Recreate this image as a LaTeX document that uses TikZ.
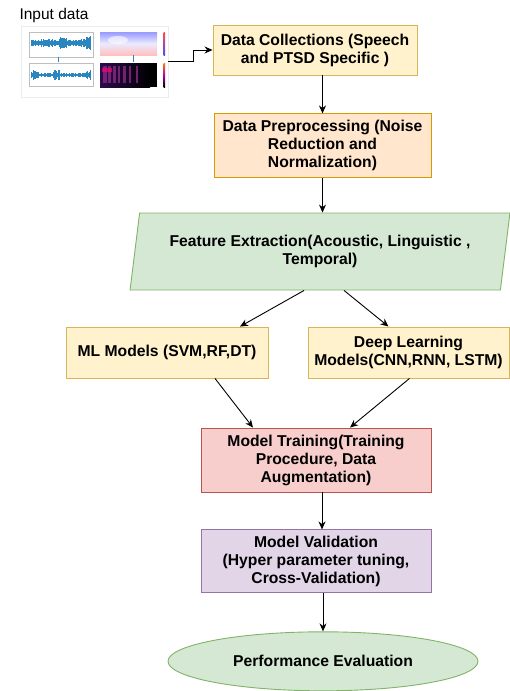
\documentclass[tikz,border=0pt]{standalone}
\usepackage{fontspec}
\setmainfont{Liberation Sans}
\usepackage{xcolor}
\usepackage{tikz}
\usetikzlibrary{shapes,arrows.meta,positioning}

\definecolor{yelfill}{HTML}{FFF2CC}
\definecolor{yeldraw}{HTML}{D6B656}
\definecolor{orafill}{HTML}{FFE6CC}
\definecolor{oradraw}{HTML}{D79B00}
\definecolor{grnfill}{HTML}{D5E8D4}
\definecolor{grndraw}{HTML}{82B366}
\definecolor{redfill}{HTML}{F8CECC}
\definecolor{reddraw}{HTML}{B85450}
\definecolor{purfill}{HTML}{E1D5E7}
\definecolor{purdraw}{HTML}{9673A6}
\definecolor{wavecol}{HTML}{2A86BE}
\definecolor{magmadk}{HTML}{2C0B4F}
\definecolor{magmamd}{HTML}{8C2981}

\begin{document}
\begin{tikzpicture}[
    x=1pt, y=-1pt,
    >={Stealth[length=8pt,width=7pt]},
    flowbox/.style={rectangle, draw, line width=0.9pt, align=center, inner sep=2pt,
        font=\fontsize{15.7}{18}\selectfont\bfseries},
    yelbox/.style={flowbox, fill=yelfill, draw=yeldraw},
    wave/.style={wavecol, line width=0.6pt}
]
\useasboundingbox (0,0) rectangle (510,691);

% input data picture
\node[anchor=west, font=\fontsize{15.5}{18}\selectfont] (inlabel) at (16,15) {Input data};
\node[draw=gray!15, minimum width=147pt, minimum height=71pt] (img) at (94.5,61.5) {};
\draw[gray!50, line width=0.3pt] (29,32) rectangle (93,57) (29,63) rectangle (93,86);
\pgfmathsetseed{11}
\foreach \x in {31,31.7,...,91} {
    \pgfmathsetmacro\a{1.5+2.5*rnd+(\x>60)*(\x<66)*2+(\x>86)*3}
    \draw[wave] (\x,{43-\a}) -- (\x,{43+\a});
    \pgfmathsetmacro\b{0.8+1.4*rnd+(\x<38)*3*rnd+(\x>52)*(\x<60)*4*rnd+(\x>86)*4*rnd}
    \draw[wave] (\x,{75-\b}) -- (\x,{75+\b});
}
\shade[top color=blue!40, bottom color=red!25, middle color=blue!8] (100,32) rectangle (157,55);
\fill[white, opacity=0.6] (118,40) ellipse (10pt and 4pt);
\fill[black] (100,63) rectangle (157,87);
\shade[left color=magmadk, right color=black] (100,63) rectangle (150,87);
\foreach \sx/\sw in {103/4,108/3,113/3,118/2,123/3,129/2,136/2} {
    \fill[magmamd, opacity=0.8] (\sx,66) rectangle ++(\sw,17);
}
\fill[magenta!70!red, opacity=0.7] (102,68) rectangle (112,72);
\shade[top color=red!70, bottom color=blue!70] (163.5,32) rectangle (165,55);
\shade[top color=orange, bottom color=black, middle color=magenta!70!black] (163.5,63) rectangle (165,87);
\draw[wave] (58,57) -- (58,62) (133,55) -- (133,62);

% flow
\node[yelbox, minimum width=204pt, minimum height=50pt] (collect) at (315,50)
    {Data Collections (Speech\\and PTSD Specific )};
\node[flowbox, fill=orafill, draw=oradraw, minimum width=217pt, minimum height=64pt]
    (preproc) [below=38pt of collect, xshift=7.5pt]
    {Data Preprocessing (Noise\\Reduction and\\Normalization)};
\node[flowbox, fill=grnfill, draw=grndraw, trapezium, trapezium left angle=77.5,
    trapezium right angle=102.5, trapezium stretches, minimum width=380pt,
    minimum height=77pt] (feature) at (320,251.5)
    {Feature Extraction(Acoustic, Linguistic ,\\Temporal)};
\node[yelbox, minimum width=202pt, minimum height=51pt] (ml) at (167,352.5)
    {ML Models (SVM,RF,DT)};
\node[yelbox, minimum width=201pt, minimum height=51pt] (dl) at (408.5,352.5)
    {Deep Learning\\Models(CNN,RNN, LSTM)};
\node[flowbox, fill=redfill, draw=reddraw, minimum width=230pt, minimum height=64pt]
    (training) at (316,460) {Model Training(Training\\Procedure, Data\\Augmentation)};
\node[flowbox, fill=purfill, draw=purdraw, minimum width=230pt, minimum height=63pt]
    (validation) [below=37pt of training]
    {Model Validation\\(Hyper parameter tuning,\\Cross-Validation)};
\node[flowbox, ellipse, fill=grnfill, draw=grndraw, minimum width=310pt, minimum height=59pt]
    (eval) [below=38pt of validation, xshift=7pt] {Performance Evaluation};

\draw[->, line width=0.9pt] (img.east) -- ++(25,0) |- (collect.west);
\draw[->, line width=0.9pt] (collect.south -| preproc.north) -- (preproc.north);
\draw[->, line width=0.9pt] (preproc.south) -- (preproc.south |- feature.north);
\draw[->, line width=0.9pt] ([xshift=-16pt]feature.south) -- ([xshift=73pt]ml.north);
\draw[->, line width=0.9pt] ([xshift=24pt]feature.south) -- ([xshift=-20pt]dl.north);
\draw[->, line width=0.9pt] ([xshift=48pt]ml.south) -- ([xshift=-63pt]training.north);
\draw[->, line width=0.9pt] ([xshift=1pt]dl.south) -- ([xshift=34pt]training.north);
\draw[->, line width=0.9pt] ([xshift=6pt]training.south) -- ([xshift=6pt]validation.north);
\draw[->, line width=0.9pt] (validation.south -| eval.north) -- (eval.north);
\end{tikzpicture}
\end{document}
